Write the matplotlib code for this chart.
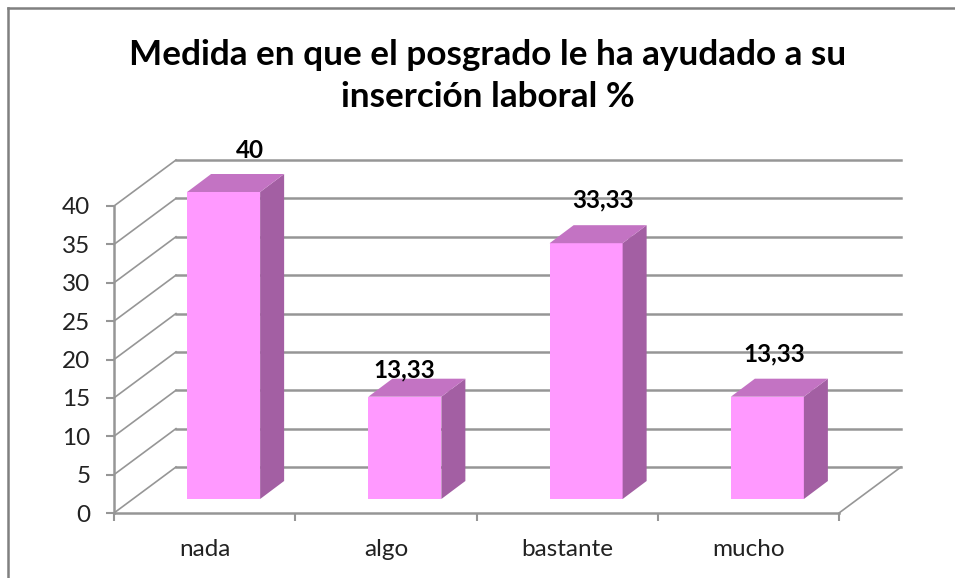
import matplotlib
matplotlib.use("Agg")
import matplotlib.pyplot as plt
from matplotlib.patches import Polygon

categories = ["nada", "algo", "bastante", "mucho"]
values = [40, 13.33, 33.33, 13.33]
value_labels = ["40", "13,33", "33,33", "13,33"]
y_ticks = [0, 5, 10, 15, 20, 25, 30, 35, 40]

W, H = 955, 578
LEFT, RIGHT, BASE, TOP = 114, 839, 513, 206

GRID = "#969696"
FRONT = "#ff99ff"
TOP_FACE = "#c373c3"
SIDE = "#a35fa3"

# the labels were dragged by hand in the original, pixels from the bar's top face
label_nudge = [(26, 24), (-1, 9), (17, 25), (7, 25)]

plt.rcParams["font.family"] = ["Lato", "DejaVu Sans"]

fig = plt.figure(figsize=(W / 100, H / 100), dpi=100)
ax = fig.add_axes([LEFT / W, 1 - BASE / H, (RIGHT - LEFT) / W, (BASE - TOP) / H])
ax.set_xlim(0, len(categories))
ax.set_ylim(0, 40)
ax.patch.set_visible(False)

# depth of the fake 3d box in data units
px_x = len(categories) / (RIGHT - LEFT)
px_y = 40 / (BASE - TOP)
wall_dx, wall_dy = 62 * px_x, 46 * px_y
gap_x, gap_y = 19 * px_x, 14 * px_y
depth_x, depth_y = 24 * px_x, 18 * px_y
half_w = 36.5 * px_x

# walls
for t in y_ticks:
    ax.plot([0, wall_dx], [t, t + wall_dy], color=GRID, lw=1.2, clip_on=False, zorder=1)
    ax.plot([wall_dx, len(categories) + wall_dx], [t + wall_dy, t + wall_dy],
            color=GRID, lw=1.8, clip_on=False, zorder=1)
ax.plot([len(categories), len(categories) + wall_dx], [0, wall_dy], color=GRID, lw=1.2,
        clip_on=False, zorder=1)

# bars
for i, v in enumerate(values):
    x0 = i + 0.5 + gap_x - half_w
    x1 = i + 0.5 + gap_x + half_w
    y0 = gap_y
    y1 = gap_y + v
    ax.add_patch(Polygon([(x0, y0), (x1, y0), (x1, y1), (x0, y1)], fc=FRONT, ec="none",
                         clip_on=False, zorder=3))
    ax.add_patch(Polygon([(x1, y0), (x1 + depth_x, y0 + depth_y), (x1 + depth_x, y1 + depth_y), (x1, y1)],
                         fc=SIDE, ec="none", clip_on=False, zorder=3))
    ax.add_patch(Polygon([(x0, y1), (x1, y1), (x1 + depth_x, y1 + depth_y), (x0 + depth_x, y1 + depth_y)],
                         fc=TOP_FACE, ec="none", clip_on=False, zorder=3))
    nx, ny = label_nudge[i]
    ax.text(i + 0.5 + gap_x + nx * px_x, y1 + depth_y + ny * px_y, value_labels[i], ha="center", va="center",
            fontsize=17.5, fontweight="bold", color="black", clip_on=False, zorder=4)

# axes
for s in ["top", "right"]:
    ax.spines[s].set_visible(False)
for s in ["left", "bottom"]:
    ax.spines[s].set_color(GRID)
    ax.spines[s].set_linewidth(1.8)
ax.set_yticks(y_ticks)
ax.set_xticks(range(len(categories) + 1))
ax.set_xticklabels([])
ax.set_xticks([i + 0.5 for i in range(len(categories))], categories, minor=True)
ax.tick_params(axis="y", length=6, width=1.5, color=GRID, labelsize=17.5, pad=11, labelcolor="#222222")
ax.tick_params(axis="x", which="major", length=6, width=1.5, color=GRID)
ax.tick_params(axis="x", which="minor", length=0, labelsize=17.5, pad=19, labelcolor="#222222")

# title
fig.text(488 / W, 1 - 76 / H, "Medida en que el posgrado le ha ayudado a su\ninserción laboral %",
         ha="center", va="center", fontsize=25.3, fontweight="bold", color="black", linespacing=1.4)

# frame of the pasted picture
fig.add_artist(plt.Line2D([8 / W, 1], [1 - 8 / H, 1 - 8 / H], color="#808080", lw=1.8))
fig.add_artist(plt.Line2D([8 / W, 8 / W], [1 - 8 / H, 0], color="#808080", lw=1.8))

fig.savefig("out.png", dpi=100, facecolor="white")
